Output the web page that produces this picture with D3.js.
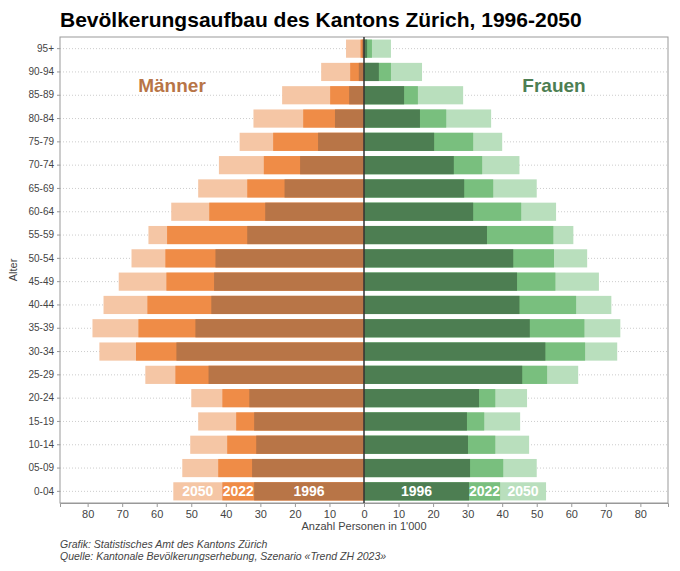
<!DOCTYPE html><html><head><meta charset="utf-8"><script src="https://cdn.jsdelivr.net/npm/d3@7"></script>
<style>body{margin:0;background:#fff}text{font-family:"Liberation Sans",Arial,sans-serif}</style></head><body><svg id="c" width="680" height="571"></svg>
<script>
const ages=["95+","90-94","85-89","80-84","75-79","70-74","65-69","60-64","55-59","50-54","45-49","40-44","35-39","30-34","25-29","20-24","15-19","10-14","05-09","0-04"];
const men1996=[0.5,1.5,4.3,8.4,13.3,18.5,23,28.6,33.8,43,43.4,44.2,48.8,54.3,45,33.2,31.8,31.2,32.4,31.8];
const men2022=[1,4,9.8,17.6,26.3,29,33.8,44.8,57,57.5,57.2,62.7,65.3,66,54.6,41,37,39.6,42.2,41];
const men2050=[5.2,12.4,23.7,32,36,42,48,55.8,62.4,67.3,71,75.4,78.6,76.6,63.3,50,48,50.3,52.6,55.2];
const wom1996=[0.9,4.3,11.6,16.2,20.3,26,29,31.6,35.6,43.2,44.3,45,48,52.5,45.8,33.3,29.8,30.1,30.7,30.4];
const wom2022=[2.3,7.8,15.6,23.8,31.6,34.2,37.4,45.5,54.8,55,55.4,61.4,63.8,64,53,38,34.8,38,40.3,39.4];
const wom2050=[7.8,16.8,28.7,36.8,40,45,50,55.6,60.6,64.6,68,71.6,74.2,73.3,62,47.2,45.2,47.8,50,52.7];
const xTicks=[-80,-70,-60,-50,-40,-30,-20,-10,0,10,20,30,40,50,60,70,80];
const svg=d3.select("#c");
const L=60,R=668,T=37,B=503;
const x=d3.scaleLinear().domain([-88,88]).range([L,R]);
const y=d3.scaleBand().domain(ages).range([T,B]).paddingInner(0.22).paddingOuter(0.11);
svg.append("text").attr("x",60).attr("y",27).attr("font-size",21).attr("font-weight","bold").text("Bevölkerungsaufbau des Kantons Zürich, 1996-2050");
svg.append("g").selectAll("line").data(ages).join("line").attr("x1",L).attr("x2",R)
 .attr("y1",d=>y(d)+y.bandwidth()/2).attr("y2",d=>y(d)+y.bandwidth()/2).attr("stroke","#ccc").attr("stroke-dasharray","1,2");
const layers=[[men2050,"#f5c6a5",-1],[men2022,"#ef8c47",-1],[men1996,"#b87547",-1],[wom2050,"#b9dfbd",1],[wom2022,"#79bf7e",1],[wom1996,"#4d7e52",1]];
layers.forEach(([arr,col,s])=>{
 svg.append("g").selectAll("rect").data(arr).join("rect")
  .attr("x",(d)=>s<0?x(-d):x(0)).attr("width",d=>Math.abs(x(d)-x(0)))
  .attr("y",(d,i)=>y(ages[i])).attr("height",y.bandwidth()).attr("fill",col);
});
svg.append("rect").attr("x",L).attr("y",T).attr("width",R-L).attr("height",B-T).attr("fill","none").attr("stroke","#999");
svg.append("line").attr("x1",x(0)).attr("x2",x(0)).attr("y1",T).attr("y2",B).attr("stroke","#333").attr("stroke-width",1.5);
const xa=svg.append("g").attr("transform",`translate(0,${B})`).call(d3.axisBottom(x).tickValues(xTicks).tickFormat(d=>Math.abs(d)).tickSize(4));
xa.select(".domain").attr("stroke","#999");xa.selectAll("line").attr("stroke","#999");
xa.selectAll("text").attr("font-size",11).attr("fill","#444");
const ya=svg.append("g").attr("transform",`translate(${L},0)`).call(d3.axisLeft(y).tickSize(3));
ya.select(".domain").remove();ya.selectAll("line").attr("stroke","#999");
ya.selectAll("text").attr("font-size",10).attr("fill","#444");
svg.append("text").attr("transform","translate(17,270) rotate(-90)").attr("text-anchor","middle").attr("font-size",11).attr("fill","#444").text("Alter");
svg.append("text").attr("x",x(0)).attr("y",530).attr("text-anchor","middle").attr("font-size",11).attr("fill","#444").text("Anzahl Personen in 1'000");
svg.append("text").attr("x",172).attr("y",92).attr("text-anchor","middle").attr("font-size",19).attr("font-weight","bold").attr("fill","#b87547").text("Männer");
svg.append("text").attr("x",554).attr("y",92).attr("text-anchor","middle").attr("font-size",19).attr("font-weight","bold").attr("fill","#4d7e52").text("Frauen");
const ly=y("0-04")+y.bandwidth()/2+5;
const lab=[[-((men1996[19])/2),"1996"],[-(men1996[19]+men2022[19])/2,"2022"],[-(men2022[19]+men2050[19])/2,"2050"],[wom1996[19]/2,"1996"],[(wom1996[19]+wom2022[19])/2,"2022"],[(wom2022[19]+wom2050[19])/2,"2050"]];
svg.append("g").selectAll("text").data(lab).join("text").attr("x",d=>x(d[0])).attr("y",ly).attr("text-anchor","middle")
 .attr("font-size",14).attr("font-weight","bold").attr("fill","#fff").text(d=>d[1]);
svg.append("text").attr("x",60).attr("y",548).attr("font-size",10.5).attr("font-style","italic").attr("fill","#444").text("Grafik: Statistisches Amt des Kantons Zürich");
svg.append("text").attr("x",60).attr("y",560).attr("font-size",10.5).attr("font-style","italic").attr("fill","#444").text("Quelle: Kantonale Bevölkerungserhebung, Szenario «Trend ZH 2023»");
</script></body></html>
